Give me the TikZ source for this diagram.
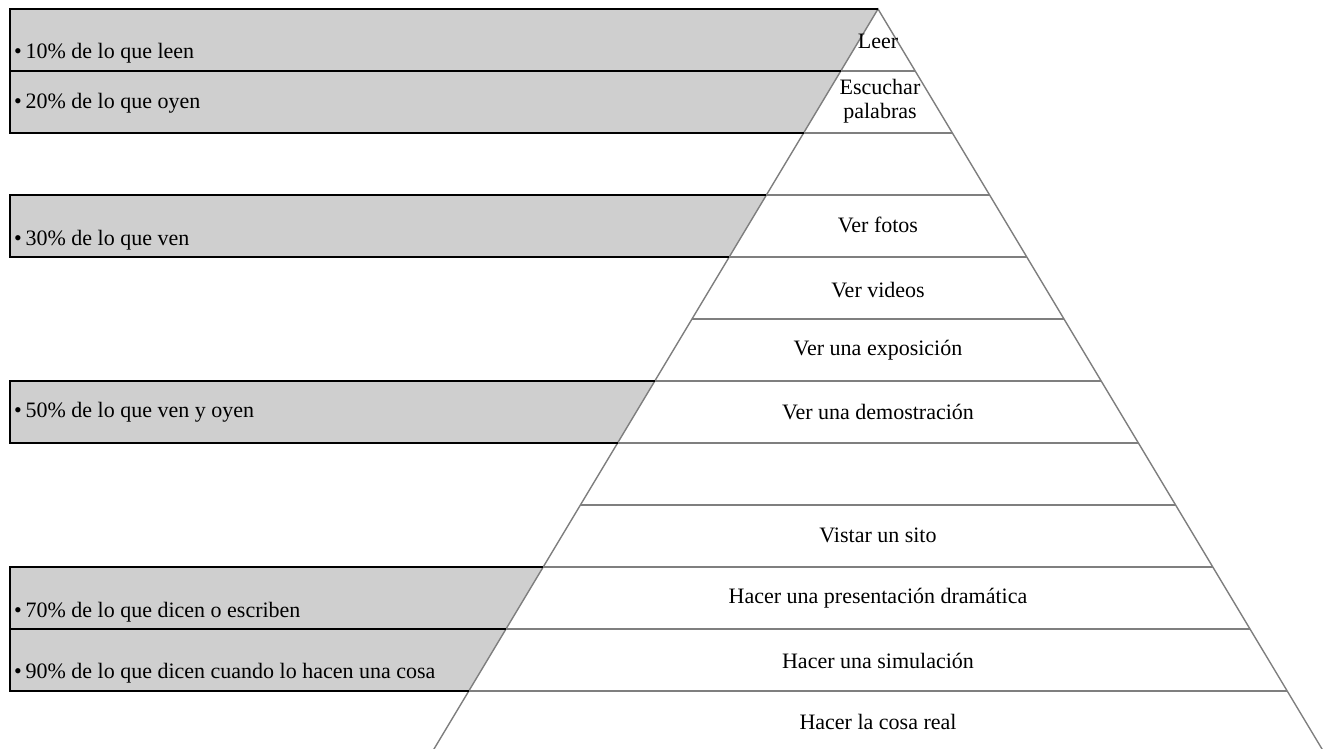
\documentclass[tikz,border=0pt]{standalone}
\usepackage{fontspec}
\setmainfont{Liberation Serif}
\definecolor{boxgray}{HTML}{CFCFCF}
\definecolor{linegray}{HTML}{7F7F7F}
\begin{document}
\begin{tikzpicture}[x=1pt,y=-1pt,
  pyrline/.style={draw=linegray,line width=1.4pt},
  boxline/.style={draw=black,line width=2pt},
  boxtext/.style={anchor=west,inner sep=0pt,font=\fontsize{22}{24}\selectfont},
  pyrtext/.style={anchor=center,inner sep=0pt,align=center,font=\fontsize{22}{24}\selectfont}]
\useasboundingbox (0,0) rectangle (1333,749);
% pyramid level coordinates
\foreach \i in {0,...,12}{
  \pgfmathsetmacro{\yy}{9+62*\i}
  \pgfmathsetmacro{\xl}{878-0.6*(\yy-9)}
  \pgfmathsetmacro{\xr}{878+0.6*(\yy-9)}
  \coordinate (L\i) at (\xl,\yy);
  \coordinate (R\i) at (\xr,\yy);
  \coordinate (B\i) at (10,\yy);
}
% gray boxes
\fill[boxgray] (B0) -- (L0) -- (L2) -- (B2) -- cycle;
\fill[boxgray] (B3) -- (L3) -- (L4) -- (B4) -- cycle;
\fill[boxgray] (B6) -- (L6) -- (L7) -- (B7) -- cycle;
\fill[boxgray] (B9) -- (L9) -- (L11) -- (B11) -- cycle;
% pyramid
\draw[pyrline] (L12) -- (L0) -- (R12);
\foreach \i in {1,...,11}{ \draw[pyrline] (L\i) -- (R\i); }
% box borders
\draw[boxline] (L0) -- (B0) -- (B2) -- (L2);
\draw[boxline] (B1) -- (L1);
\draw[boxline] (L3) -- (B3) -- (B4) -- (L4);
\draw[boxline] (L6) -- (B6) -- (B7) -- (L7);
\draw[boxline] (L9) -- (B9) -- (B11) -- (L11);
\draw[boxline] (B10) -- (L10);
% box texts
\node[boxtext] (t10) at (14,53) {•\,10\% de lo que leen};
\node[boxtext] (t20) at (14,103) {•\,20\% de lo que oyen};
\node[boxtext] (t30) at (14,240) {•\,30\% de lo que ven};
\node[boxtext] (t50) at (14,412) {•\,50\% de lo que ven y oyen};
\node[boxtext] (t70) at (14,612) {•\,70\% de lo que dicen o escriben};
\node[boxtext] (t90) at (14,673) {•\,90\% de lo que dicen cuando lo hacen una cosa};
% pyramid texts
\node[pyrtext] (p1) at (878,41) {Leer};
\node[pyrtext] (p2) at (880,101) {Escuchar\\palabras};
\node[pyrtext] (p4) at (878,225) {Ver fotos};
\node[pyrtext] (p5) at (878,290) {Ver videos};
\node[pyrtext] (p6) at (878,350) {Ver una exposición};
\node[pyrtext] (p7) at (878,412) {Ver una demostración};
\node[pyrtext] (p9) at (878,535) {Vistar un sito};
\node[pyrtext] (p10) at (878,598) {Hacer una presentación dramática};
\node[pyrtext] (p11) at (878,661) {Hacer una simulación};
\node[pyrtext] (p12) at (878,722) {Hacer la cosa real};
\end{tikzpicture}
\end{document}
